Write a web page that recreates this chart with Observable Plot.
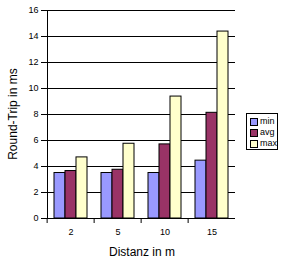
<!DOCTYPE html>
<html>
<head>
<meta charset="utf-8">
<script src="https://cdn.jsdelivr.net/npm/d3@7"></script>
<script src="https://cdn.jsdelivr.net/npm/@observablehq/plot@0.6"></script>
<style>
  html, body { margin: 0; padding: 0; background: #fff; }
  #wrap { position: relative; width: 284px; height: 265px; font-family: Arial, "Liberation Sans", sans-serif; }
  #legend { position: absolute; left: 246px; top: 113px; width: 30px; height: 35px; border: 1px solid #000; background: #fff; font-size: 9px; }
  #legend .row { position: absolute; left: 3px; height: 9px; line-height: 9px; white-space: nowrap; }
  #legend .sw { display: inline-block; width: 6px; height: 6px; border: 1px solid #000; vertical-align: top; margin-top: 1px; margin-right: 2px; }
  #xlabel { position: absolute; left: 0; width: 284px; top: 245px; text-align: center; font-size: 12px; }
  #ylabel { position: absolute; left: 13px; top: 114px; font-size: 12px; white-space: nowrap; transform: translate(-50%, -50%) rotate(-90deg); }
</style>
</head>
<body>
<div id="wrap">
  <div id="chart"></div>
  <div id="ylabel">Round-Trip in ms</div>
  <div id="xlabel">Distanz in m</div>
  <div id="legend"></div>
</div>
<script>
const distances = ["2", "5", "10", "15"];
const seriesNames = ["min", "avg", "max"];
const minValues = [3.5, 3.5, 3.5, 4.45];
const avgValues = [3.65, 3.75, 5.7, 8.13];
const maxValues = [4.7, 5.75, 9.38, 14.38];
const seriesColors = ["#9999FF", "#993366", "#FFFFCC"];
const yTicks = [0, 2, 4, 6, 8, 10, 12, 14, 16];

const valuesBySeries = {min: minValues, avg: avgValues, max: maxValues};
const rows = distances.flatMap((d, i) =>
  seriesNames.map(s => ({dist: d, series: s, value: valuesBySeries[s][i]}))
);

const W = 284, H = 265, mL = 45, mR = 48, mT = 10, mB = 47;
const groupWidth = (W - mL - mR) / distances.length;

const chart = Plot.plot({
  width: W,
  height: H,
  marginLeft: mL,
  marginRight: mR,
  marginTop: mT,
  marginBottom: mB,
  style: {fontFamily: "Arial, 'Liberation Sans', sans-serif", fontSize: "9px", background: "white", color: "black", overflow: "visible"},
  fx: {domain: distances, padding: 0},
  x: {domain: seriesNames, paddingInner: 0, paddingOuter: 0.5, axis: null},
  y: {domain: [0, 16], axis: null},
  color: {domain: seriesNames, range: seriesColors},
  marks: [
    Plot.gridY(yTicks, {stroke: "black", strokeOpacity: 1, strokeWidth: 1}),
    Plot.barY(rows, {fx: "dist", x: "series", y: "value", fill: "series", stroke: "black", strokeWidth: 1}),
    Plot.axisY(yTicks, {anchor: "left", tickSize: 6, tickPadding: 3, label: null, fontSize: 9}),
    Plot.frame({anchor: "left", facetAnchor: "left", stroke: "black"}),
    Plot.axisFx({anchor: "bottom", tickSize: 5, text: null, label: null, dx: -groupWidth / 2}),
    Plot.axisFx({anchor: "bottom", tickSize: 0, tickPadding: 10, label: null, fontSize: 9})
  ]
});
document.getElementById("chart").appendChild(chart);

const legend = document.getElementById("legend");
seriesNames.forEach((s, i) => {
  const row = document.createElement("div");
  row.className = "row";
  row.style.top = (3 + i * 11) + "px";
  row.innerHTML = `<span class="sw" style="background:${seriesColors[i]}"></span>${s}`;
  legend.appendChild(row);
});
</script>
</body>
</html>
